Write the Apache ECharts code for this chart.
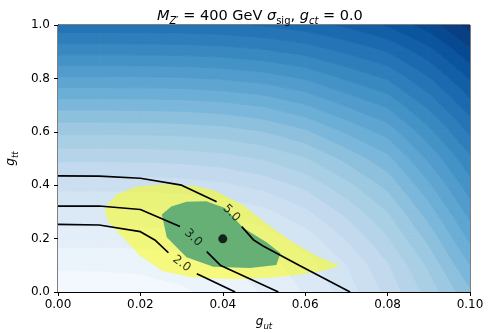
<!DOCTYPE html>
<html><head><meta charset="utf-8">
<script src="https://cdn.jsdelivr.net/npm/echarts@6/dist/echarts.min.js"></script>
<style>html,body{margin:0;padding:0;background:#fff}#c{width:491px;height:333px}</style>
</head><body><div id="c"></div>
<script>
// ---- data ----
const gutGrid = [0, 0.01, 0.02, 0.03, 0.04, 0.05, 0.06, 0.07, 0.08, 0.09, 0.10];
const gttGrid = [0, 0.1, 0.2, 0.3, 0.4, 0.5, 0.6, 0.7, 0.8, 0.9, 1.0];
// sigma field, expressed in contour-level units; one row per g_tt value
const sigmaLevel = [
  [-1.80, -1.73, -1.52, -1.16, -0.65, 0.09, 1.07, 2.43, 4.30, 6.40, 8.80],
  [-0.80, -0.80, -0.75, -0.56, -0.16, 0.54, 1.55, 2.99, 4.90, 7.20, 10.00],
  [0.38, 0.38, 0.41, 0.53, 0.83, 1.45, 2.45, 4.07, 5.90, 8.30, 11.20],
  [1.71, 1.72, 1.74, 1.84, 2.12, 2.70, 3.79, 5.28, 7.00, 9.50, 12.40],
  [3.36, 3.36, 3.39, 3.50, 3.80, 4.35, 5.27, 6.69, 8.30, 10.80, 13.60],
  [5.24, 5.24, 5.26, 5.36, 5.60, 6.10, 6.92, 8.28, 9.70, 12.20, 14.80],
  [7.21, 7.21, 7.23, 7.31, 7.52, 7.97, 8.80, 10.12, 11.40, 13.70, 16.20],
  [9.42, 9.42, 9.44, 9.51, 9.71, 10.14, 10.93, 12.10, 13.20, 15.30, 17.60],
  [11.83, 11.83, 11.85, 11.91, 12.09, 12.45, 13.09, 14.14, 15.10, 16.90, 19.10],
  [14.29, 14.29, 14.31, 14.36, 14.50, 14.80, 15.32, 16.13, 17.00, 18.60, 20.70],
  [16.67, 16.67, 16.68, 16.72, 16.83, 17.07, 17.50, 18.19, 19.10, 20.50, 22.40]
];
const levelMin = -2, levelMax = 23;

// 2-sigma (yellow) and 1-sigma (green) regions
const yellowGut = [0.0113, 0.0142, 0.0190, 0.0260, 0.0330, 0.0380, 0.0450, 0.0507, 0.0571, 0.0628, 0.0684, 0.0652, 0.0587, 0.0507, 0.0425, 0.0324, 0.0255, 0.0200, 0.0154, 0.0121];
const yellowGtt = [0.315, 0.365, 0.395, 0.404, 0.398, 0.380, 0.325, 0.255, 0.185, 0.135, 0.098, 0.082, 0.065, 0.052, 0.048, 0.055, 0.078, 0.135, 0.210, 0.265];
const greenGut = [0.0252, 0.0275, 0.0312, 0.0360, 0.0405, 0.0450, 0.0507, 0.0540, 0.0530, 0.0466, 0.0377, 0.0312, 0.0264];
const greenGtt = [0.290, 0.320, 0.338, 0.340, 0.315, 0.240, 0.185, 0.145, 0.101, 0.090, 0.095, 0.130, 0.205];

// labelled contour lines (split where the label sits)
const line5a = [[0, 0.435], [0.01, 0.434], [0.02, 0.426], [0.03, 0.400], [0.0385, 0.338]];
const line5b = [[0.0446, 0.245], [0.0474, 0.196], [0.050, 0.170], [0.0585, 0.100], [0.0709, 0]];
const line3a = [[0, 0.322], [0.01, 0.322], [0.02, 0.309], [0.0296, 0.245]];
const line3b = [[0.0361, 0.151], [0.0395, 0.099], [0.0535, 0]];
const line2a = [[0, 0.253], [0.01, 0.251], [0.02, 0.226], [0.0235, 0.195], [0.0268, 0.147]];
const line2b = [[0.0337, 0.068], [0.0430, 0]];
const contourLabels = [
  {pos: [0.0421, 0.295], text: '5.0', angle: -45},
  {pos: [0.0328, 0.203], text: '3.0', angle: -43},
  {pos: [0.0300, 0.106], text: '2.0', angle: -37}
];
const bestPoint = [[0.040, 0.199]];

const xTickValues = [0, 0.02, 0.04, 0.06, 0.08, 0.10];
const yTickValues = [0, 0.2, 0.4, 0.6, 0.8, 1.0];

// ---- Blues colormap ----
const bluesStops = ['#f7fbff', '#deebf7', '#c6dbef', '#9ecae1', '#6baed6', '#4292c6', '#2171b5', '#08519c', '#08306b'];
function hex2rgb(h) { return [parseInt(h.slice(1, 3), 16), parseInt(h.slice(3, 5), 16), parseInt(h.slice(5, 7), 16)]; }
const bluesRGB = bluesStops.map(hex2rgb);
function blues(f) {
  f = Math.max(0, Math.min(1, f));
  const p = f * (bluesRGB.length - 1);
  const k = Math.min(bluesRGB.length - 2, Math.floor(p));
  const t = p - k;
  const a = bluesRGB[k], b = bluesRGB[k + 1];
  return 'rgb(' + a.map((c, n) => Math.round(c + (b[n] - c) * t)).join(',') + ')';
}
function bandColor(L) { return blues((L + 0.5 - levelMin) / (levelMax - levelMin)); }

function clipPoly(poly, fn) {
  const out = [];
  for (let k = 0; k < poly.length; k++) {
    const a = poly[k], b = poly[(k + 1) % poly.length];
    const da = fn(a), db = fn(b);
    if (da >= 0) out.push(a);
    if ((da >= 0) !== (db >= 0)) {
      const t = da / (da - db);
      out.push({x: a.x + (b.x - a.x) * t, y: a.y + (b.y - a.y) * t, v: a.v + (b.v - a.v) * t});
    }
  }
  return out;
}

const cells = [];
for (let j = 0; j < gttGrid.length - 1; j++)
  for (let i = 0; i < gutGrid.length - 1; i++)
    cells.push([gutGrid[i], gttGrid[j], i, j]);

function renderCell(params, api) {
  const i = api.value(2), j = api.value(3);
  const corners = [[i, j], [i + 1, j], [i + 1, j + 1], [i, j + 1]].map(([a, b]) => {
    const p = api.coord([gutGrid[a], gttGrid[b]]);
    return {x: p[0], y: p[1], v: sigmaLevel[b][a]};
  });
  const vs = corners.map(c => c.v);
  const lo = Math.floor(Math.min(...vs)), hi = Math.floor(Math.max(...vs));
  const children = [];
  for (let L = lo; L <= hi; L++) {
    let poly = clipPoly(corners, c => c.v - L);
    if (poly.length < 3) continue;
    poly = clipPoly(poly, c => (L + 1) - c.v);
    if (poly.length < 3) continue;
    const col = bandColor(L);
    children.push({type: 'polygon', shape: {points: poly.map(c => [c.x, c.y])},
      style: {fill: col, stroke: col, lineWidth: 0.9}});
  }
  return {type: 'group', children};
}

function polySeries(gx, gy, fill) {
  return {
    type: 'custom', silent: true, clip: true,
    data: gx.map((g, k) => [g, gy[k]]),
    encode: {x: 0, y: 1},
    renderItem: (params, api) => {
      if (params.dataIndex !== 0) return;
      const pts = gx.map((g, k) => api.coord([g, gy[k]]));
      return {type: 'polygon', shape: {points: pts}, style: {fill: fill}};
    }
  };
}
function lineSeries(d) {
  return {type: 'line', data: d, showSymbol: false, silent: true, clip: true,
    lineStyle: {color: '#000', width: 1.7}, z: 5};
}

const FONT = 'DejaVu Sans';
const chart = echarts.init(document.getElementById('c'), null, {renderer: 'canvas'});
chart.setOption({
  animation: false,
  backgroundColor: '#fff',
  title: {
    text: '{i|M}{s|Z′}{n| = 400 GeV }{i|σ}{s2|sig}{n|, }{i|g}{s|ct}{n| = 0.0}',
    left: 152, top: 1,
    textStyle: {
      fontFamily: FONT, fontWeight: 'normal', color: '#000', fontSize: 14.5,
      rich: {
        i: {fontFamily: FONT, fontStyle: 'italic', fontSize: 14.5, lineHeight: 20, color: '#000'},
        n: {fontFamily: FONT, fontSize: 14.5, lineHeight: 20, color: '#000'},
        s: {fontFamily: FONT, fontStyle: 'italic', fontSize: 10, lineHeight: 20, verticalAlign: 'bottom', color: '#000'},
        s2: {fontFamily: FONT, fontSize: 10, lineHeight: 20, verticalAlign: 'bottom', color: '#000'}
      }
    }
  },
  grid: {left: 58, right: 21, top: 25, bottom: 41, containLabel: false, outerBoundsMode: 'none',
    show: true, borderColor: '#000', borderWidth: 1, backgroundColor: 'transparent'},
  xAxis: {
    type: 'value', min: 0, max: 0.1, interval: 0.02,
    name: '{i|g}{s|ut}', nameLocation: 'middle', nameGap: 21,
    nameTextStyle: {rich: {
      i: {fontFamily: FONT, fontStyle: 'italic', fontSize: 12, lineHeight: 18, color: '#000'},
      s: {fontFamily: FONT, fontStyle: 'italic', fontSize: 8.5, lineHeight: 18, verticalAlign: 'bottom', color: '#000'}}},
    axisLine: {show: true, lineStyle: {color: '#000', width: 1}},
    axisTick: {show: true, length: 4, lineStyle: {color: '#000'}},
    axisLabel: {color: '#000', fontFamily: FONT, fontSize: 12, margin: 7,
      formatter: v => (xTickValues.some(t => Math.abs(t - v) < 1e-9) ? v.toFixed(2) : '')},
    splitLine: {show: false}
  },
  yAxis: {
    type: 'value', min: 0, max: 1, interval: 0.2,
    name: '{i|g}{s|tt}', nameLocation: 'middle', nameGap: 33, nameRotate: 90,
    nameTextStyle: {rich: {
      i: {fontFamily: FONT, fontStyle: 'italic', fontSize: 12, lineHeight: 18, color: '#000'},
      s: {fontFamily: FONT, fontStyle: 'italic', fontSize: 8.5, lineHeight: 18, verticalAlign: 'bottom', color: '#000'}}},
    axisLine: {show: true, lineStyle: {color: '#000', width: 1}},
    axisTick: {show: true, length: 4, lineStyle: {color: '#000'}},
    axisLabel: {color: '#000', fontFamily: FONT, fontSize: 12, margin: 8,
      formatter: v => (yTickValues.some(t => Math.abs(t - v) < 1e-9) ? v.toFixed(1) : '')},
    splitLine: {show: false}
  },
  series: [
    {type: 'custom', silent: true, clip: true, data: cells, encode: {x: 0, y: 1}, renderItem: renderCell},
    polySeries(yellowGut, yellowGtt, 'rgba(255,255,0,0.5)'),
    polySeries(greenGut, greenGtt, 'rgb(102,176,118)'),
    lineSeries(line5a), lineSeries(line5b),
    lineSeries(line3a), lineSeries(line3b),
    lineSeries(line2a), lineSeries(line2b),
    {type: 'scatter', silent: true, symbolSize: 0, z: 6,
      data: contourLabels.map(c => ({value: c.pos, label: {show: true, position: 'inside', formatter: c.text, rotate: c.angle,
        color: '#000', fontFamily: FONT, fontSize: 12}}))},
    {type: 'scatter', silent: true, symbolSize: 9, z: 7, data: bestPoint, itemStyle: {color: '#000'}}
  ]
});
</script></body></html>
